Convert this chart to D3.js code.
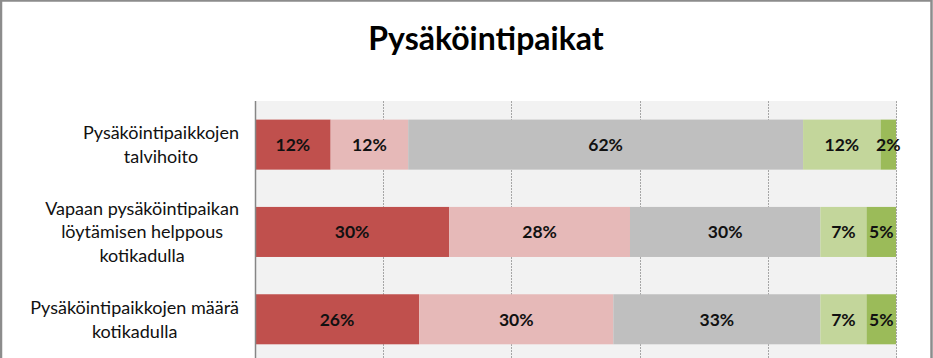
<!DOCTYPE html>
<html><head><meta charset="utf-8">
<script src="https://cdn.jsdelivr.net/npm/d3@7"></script>
<style>
html,body{margin:0;padding:0;background:#fff;}
svg{display:block;}
</style></head>
<body>
<svg id="c" width="933" height="358"></svg>
<script>
const title = "Pysäköintipaikat";
const categories = [
  ["Pysäköintipaikkojen", "talvihoito"],
  ["Vapaan pysäköintipaikan", "löytämisen helppous", "kotikadulla"],
  ["Pysäköintipaikkojen määrä", "kotikadulla"]
];
const seriesNames = ["s1", "s2", "s3", "s4", "s5"];
const seriesColors = ["#c0504d", "#e6b9b8", "#bfbfbf", "#c3d69b", "#9bbb59"];
const values1 = [11.8, 12.1, 61.6, 12.1, 2.4];
const values2 = [30.3, 28.2, 29.7, 7.2, 4.6];
const values3 = [25.6, 30.3, 32.3, 7.2, 4.6];
const labels1 = ["12%", "12%", "62%", "12%", "2%"];
const labels2 = ["30%", "28%", "30%", "7%", "5%"];
const labels3 = ["26%", "30%", "33%", "7%", "5%"];
const xTicks = [0, 20, 40, 60, 80, 100];

const rows = [values1, values2, values3];
const rowLabels = [labels1, labels2, labels3];

const svg = d3.select("#c");
const font = "Lato, 'Open Sans', sans-serif";

// outer border
svg.append("rect").attr("x", 1).attr("y", 0.5).attr("width", 930.5).attr("height", 400)
  .attr("fill", "#fff").attr("stroke", "#8c8c8c").attr("stroke-width", 2.5);

const pLeft = 255, pRight = 896, pTop = 101, step = 87.3;
const x = d3.scaleLinear().domain([0, 100]).range([pLeft, pRight]);
const y = d3.scaleBand().domain(d3.range(categories.length)).range([pTop, pTop + step * categories.length])
  .paddingInner(0.427).paddingOuter(0.213);

// plot background
svg.append("rect").attr("x", pLeft).attr("y", pTop).attr("width", pRight - pLeft + 1).attr("height", 300)
  .attr("fill", "#f2f2f2");

// gridlines
svg.append("g").selectAll("line").data(xTicks.slice(1)).join("line")
  .attr("x1", d => Math.round(x(d)) + 0.5).attr("x2", d => Math.round(x(d)) + 0.5)
  .attr("y1", pTop).attr("y2", 358)
  .attr("stroke", "#a6a6a6").attr("stroke-width", 1).attr("stroke-dasharray", "2,1");

// bars
rows.forEach((vals, i) => {
  let acc = 0;
  const segs = vals.map((v, j) => { const s = { x0: acc, x1: acc + v, j, label: rowLabels[i][j] }; acc += v; return s; });
  const g = svg.append("g");
  g.selectAll("rect").data(segs).join("rect")
    .attr("x", d => x(d.x0)).attr("width", d => x(d.x1) - x(d.x0))
    .attr("y", y(i)).attr("height", y.bandwidth())
    .attr("fill", d => seriesColors[d.j]);
  g.selectAll("text").data(segs).join("text")
    .attr("x", d => (x(d.x0) + x(d.x1)) / 2)
    .attr("y", y(i) + y.bandwidth() / 2)
    .attr("dy", "0.36em")
    .attr("text-anchor", "middle")
    .attr("font-family", font).attr("font-weight", "bold").attr("font-size", 17.5)
    .attr("fill", "#111")
    .text(d => d.label);
});

// axis line
svg.append("line").attr("x1", pLeft + 0.5).attr("x2", pLeft + 0.5).attr("y1", pTop).attr("y2", 358)
  .attr("stroke", "#868686").attr("stroke-width", 1.5);

// category labels
const lh = 23.5;
categories.forEach((lines, i) => {
  const cy = y(i) + y.bandwidth() / 2;
  const t = svg.append("text").attr("font-family", font).attr("font-size", 18).attr("fill", "#111")
    .attr("text-anchor", "middle");
  lines.forEach((ln, k) => {
    t.append("tspan").attr("y", cy + (k - (lines.length - 1) / 2) * lh).attr("dy", "0.36em").text(ln);
  });
  const widths = [];
  t.selectAll("tspan").each(function () { widths.push(this.getComputedTextLength()); });
  const w = d3.max(widths);
  const cx = 239 - w / 2;
  t.selectAll("tspan").attr("x", cx);
});

// title
svg.append("text").attr("x", 486).attr("y", 50).attr("text-anchor", "middle")
  .attr("font-family", font).attr("font-weight", "bold").attr("font-size", 32).attr("fill", "#000")
  .text(title);
</script>
</body></html>
